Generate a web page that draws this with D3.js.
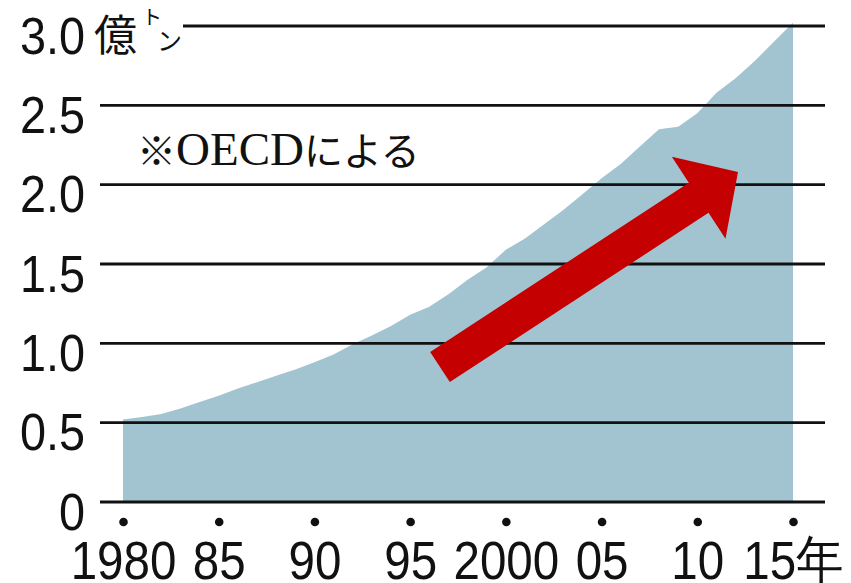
<!DOCTYPE html>
<html>
<head>
<meta charset="utf-8">
<script src="https://cdn.jsdelivr.net/npm/d3@7/dist/d3.min.js"></script>
<style>
  html, body { margin: 0; padding: 0; background: #fff; }
  svg { display: block; }
</style>
</head>
<body>
<svg id="chart" width="851" height="583"></svg>
<script>
// Global output, 億トン, 1980–2015
const years = d3.range(1980, 2016);
const values = [
  0.52, 0.535, 0.555, 0.59, 0.63, 0.67, 0.715, 0.755, 0.795, 0.835,
  0.88, 0.93, 0.995, 1.05, 1.11, 1.18, 1.23, 1.31, 1.40, 1.48,
  1.59, 1.66, 1.75, 1.84, 1.94, 2.04, 2.13, 2.24, 2.35, 2.365,
  2.45, 2.58, 2.67, 2.78, 2.90, 3.02
];
const yTicks = [0, 0.5, 1.0, 1.5, 2.0, 2.5, 3.0];
const xTickYears = [1980, 1985, 1990, 1995, 2000, 2005, 2010, 2015];
const xTickLabels = ["1980", "85", "90", "95", "2000", "05", "10", "15年"];
const noteText = ["※", "OECD", "による"];

const svg = d3.select("#chart");
const x = d3.scaleLinear().domain([1980, 2015]).range([123, 793]);
const y = d3.scaleLinear().domain([0, 3.0]).range([502, 26]);

const sans = "'Liberation Sans', Arial, Helvetica, sans-serif";
const cjk = "'Noto Sans CJK JP', 'Noto Sans', sans-serif";

const data = years.map((yr, i) => ({ year: yr, value: values[i] }));

// Filled area
const area = d3.area()
  .x(d => x(d.year))
  .y0(y(0))
  .y1(d => y(d.value));
svg.append("path")
  .datum(data)
  .attr("d", area)
  .attr("fill", "#a2c4d0");

// Horizontal gridlines (over the area)
const gridLeft = 100, gridRight = 825;
svg.append("g")
  .selectAll("line")
  .data(yTicks)
  .join("line")
  .attr("x1", d => d === 3.0 ? 183 : gridLeft)
  .attr("x2", gridRight)
  .attr("y1", d => y(d))
  .attr("y2", d => y(d))
  .attr("stroke", "#111")
  .attr("stroke-width", 2.8);

// Red trend arrow
(function drawArrow() {
  const tail = [440, 367], tip = [738, 172];
  const shaftHalf = 18, headHalf = 49, headLen = 47;
  const dx = tip[0] - tail[0], dy = tip[1] - tail[1];
  const len = Math.hypot(dx, dy);
  const u = [dx / len, dy / len], n = [-u[1], u[0]];
  const p = (along, side) => [tail[0] + u[0] * along + n[0] * side,
                              tail[1] + u[1] * along + n[1] * side];
  const base = len - headLen;
  const pts = [p(0, shaftHalf), p(base, shaftHalf), p(base, headHalf), p(len, 0),
               p(base, -headHalf), p(base, -shaftHalf), p(0, -shaftHalf)];
  svg.append("path")
    .attr("d", d3.line()(pts) + "Z")
    .attr("fill", "#c40000");
})();

// Y axis labels
const yAxis = d3.axisLeft(y)
  .tickValues(yTicks)
  .tickSize(0)
  .tickPadding(0)
  .tickFormat(d => d === 0 ? "0" : d3.format(".1f")(d));
const yAxisG = svg.append("g")
  .attr("transform", "translate(85,0)")
  .call(yAxis);
yAxisG.select(".domain").remove();
yAxisG.selectAll("text")
  .attr("x", 0)
  .attr("dy", null)
  .attr("y", 27)
  .attr("transform", "scale(0.9,1)")
  .attr("fill", "#111")
  .style("font-family", sans)
  .style("font-size", "52px");

// Unit label next to the top tick
svg.append("text")
  .attr("x", 94).attr("y", 51)
  .attr("fill", "#111")
  .style("font-family", cjk)
  .style("font-size", "43px")
  .text("億");
svg.append("text")
  .attr("x", 142).attr("y", 25)
  .attr("fill", "#111")
  .style("font-family", cjk)
  .style("font-size", "20px")
  .text("ト");
svg.append("text")
  .attr("x", 157).attr("y", 50)
  .attr("fill", "#111")
  .style("font-family", cjk)
  .style("font-size", "25px")
  .text("ン");

// X axis: dots and year labels
const xAxis = d3.axisBottom(x)
  .tickValues(xTickYears)
  .tickSize(0)
  .tickPadding(0)
  .tickFormat((d, i) => xTickLabels[i]);
const xAxisG = svg.append("g")
  .call(xAxis);
xAxisG.select(".domain").remove();
xAxisG.selectAll(".tick").append("circle")
  .attr("cy", 522)
  .attr("r", 4.3)
  .attr("fill", "#111");
xAxisG.selectAll(".tick text")
  .attr("y", 579)
  .attr("dy", null)
  .attr("transform", "scale(0.88,1)")
  .attr("fill", "#111")
  .style("font-family", sans)
  .style("font-size", "54px");

// Source note
const note = svg.append("text")
  .attr("x", 137).attr("y", 165)
  .attr("fill", "#111");
note.append("tspan").style("font-family", cjk).style("font-size", "39px").text(noteText[0]);
note.append("tspan").style("font-family", "'Liberation Serif', 'Times New Roman', serif")
  .style("font-size", "47px").text(noteText[1]);
note.append("tspan").style("font-family", cjk).style("font-size", "39px").text(noteText[2]);
</script>
</body>
</html>
